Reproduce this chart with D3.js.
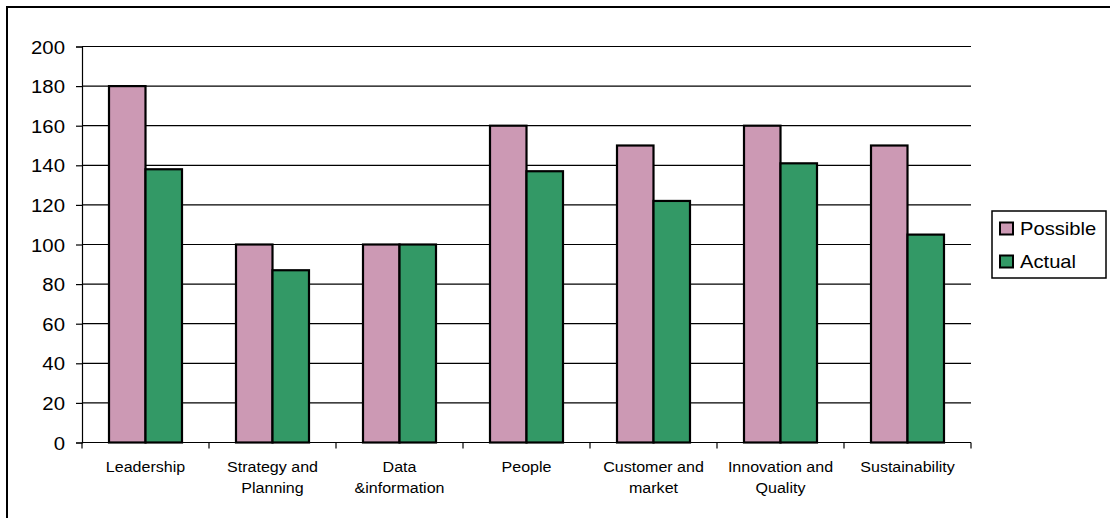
<!DOCTYPE html>
<html>
<head>
<meta charset="utf-8">
<script src="https://cdn.jsdelivr.net/npm/d3@7"></script>
<style>
  html, body { margin: 0; padding: 0; background: #fff; }
  svg { display: block; }
  text { font-family: "Liberation Sans", Arial, sans-serif; fill: #000; }
</style>
</head>
<body>
<svg id="chart" width="1110" height="518"></svg>
<script>
const categories = ["Leadership", "Strategy and\nPlanning", "Data\n&information", "People", "Customer and\nmarket", "Innovation and\nQuality", "Sustainability"];
const seriesNames = ["Possible", "Actual"];
const possible = [180, 100, 100, 160, 150, 160, 150];
const actual = [138, 87, 100, 137, 122, 141, 105];
const yTicks = [0, 20, 40, 60, 80, 100, 120, 140, 160, 180, 200];
const colors = ["#cc99b4", "#339966"];

const svg = d3.select("#chart");
const values = [possible, actual];

// outer chart border (right/bottom edges fall outside the picture)
svg.append("rect").attr("x", 7).attr("y", 7).attr("width", 1200).attr("height", 600)
  .attr("fill", "#fff").attr("stroke", "#000").attr("stroke-width", 2);

const plotLeft = 82, plotRight = 971, plotTop = 46.5, plotBottom = 442.5;
const y = d3.scaleLinear().domain([0, 200]).range([plotBottom, plotTop]);
const x0 = d3.scaleBand().domain(d3.range(categories.length)).range([plotLeft, plotRight]);
const x1 = d3.scaleBand().domain(d3.range(seriesNames.length)).range([0, x0.bandwidth()]).paddingInner(0).paddingOuter(0.74);

// gridlines
svg.append("g").selectAll("line").data(yTicks.filter(d => d > 0)).join("line")
  .attr("x1", plotLeft).attr("x2", plotRight)
  .attr("y1", d => y(d)).attr("y2", d => y(d))
  .attr("stroke", "#000").attr("stroke-width", 1.2);

// y axis
const yAxis = svg.append("g").attr("transform", `translate(${plotLeft},0)`)
  .call(d3.axisLeft(y).tickValues(yTicks).tickSize(6).tickPadding(0).tickFormat(d3.format("d")));
yAxis.select(".domain").attr("stroke", "#000").attr("stroke-width", 1.2);
yAxis.selectAll(".tick line").attr("stroke", "#000").attr("stroke-width", 1.2);
yAxis.selectAll(".tick text").remove();
yAxis.selectAll(".tick").append("text")
  .attr("transform", "translate(-17,6.5) scale(1.1,1)")
  .attr("text-anchor", "end")
  .style("font-size", "18.5px")
  .text(d => d);

// bars
const groups = svg.append("g").selectAll("g").data(categories).join("g")
  .attr("transform", (d, i) => `translate(${x0(i)},0)`);
groups.selectAll("rect").data((d, i) => values.map((s, k) => ({k, v: s[i]}))).join("rect")
  .attr("x", d => x1(d.k))
  .attr("width", x1.bandwidth())
  .attr("y", d => y(d.v))
  .attr("height", d => plotBottom - y(d.v))
  .attr("fill", d => colors[d.k])
  .attr("stroke", "#000").attr("stroke-width", 2.2);

// x axis
const xAxisG = svg.append("g").attr("transform", `translate(0,${plotBottom})`);
xAxisG.append("line").attr("x1", plotLeft).attr("x2", plotRight).attr("y1", 0).attr("y2", 0)
  .attr("stroke", "#000").attr("stroke-width", 1.2);
const boundaries = d3.range(categories.length + 1).map(i => i < categories.length ? x0(i) : x0(categories.length - 1) + x0.bandwidth());
xAxisG.selectAll("line.tk").data(boundaries).join("line").attr("class", "tk")
  .attr("x1", d => d).attr("x2", d => d).attr("y1", 0).attr("y2", 6)
  .attr("stroke", "#000").attr("stroke-width", 1.2);
const labels = svg.append("g").selectAll("text").data(categories).join("text")
  .attr("transform", (d, i) => `translate(${x0(i) + x0.bandwidth() / 2},471.5) scale(1.07,1)`)
  .attr("text-anchor", "middle")
  .style("font-size", "15px");
labels.each(function(d) {
  const lines = d.split("\n");
  d3.select(this).selectAll("tspan").data(lines).join("tspan")
    .attr("x", 0).attr("y", (l, j) => j * 21.5).text(l => l);
});

// legend
const legend = svg.append("g");
legend.append("rect").attr("x", 992).attr("y", 211).attr("width", 114).attr("height", 67)
  .attr("fill", "#fff").attr("stroke", "#000").attr("stroke-width", 1.5);
const items = legend.selectAll("g").data(seriesNames).join("g")
  .attr("transform", (d, i) => `translate(0,${i * 33})`);
items.append("rect").attr("x", 1000).attr("y", 222.5).attr("width", 13).attr("height", 12)
  .attr("fill", (d, i) => colors[i]).attr("stroke", "#000").attr("stroke-width", 2);
items.append("text")
  .attr("transform", "translate(1020,235) scale(1.12,1)")
  .style("font-size", "18px")
  .text(d => d);
</script>
</body>
</html>
